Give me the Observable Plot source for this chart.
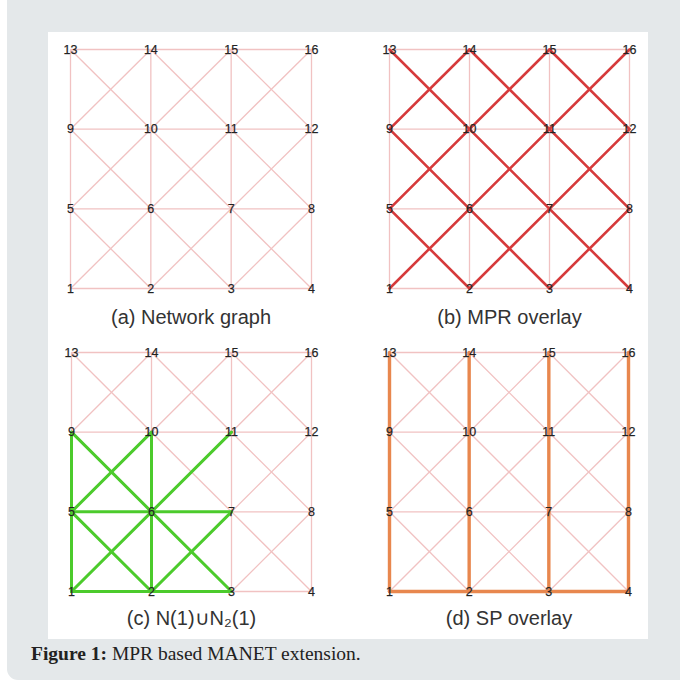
<!DOCTYPE html>
<html>
<head>
<meta charset="utf-8">
<script src="https://cdn.jsdelivr.net/npm/d3@7"></script>
<script src="https://cdn.jsdelivr.net/npm/@observablehq/plot@0.6"></script>
<style>
  html, body { margin: 0; padding: 0; background: #ffffff; width: 680px; height: 681px; overflow: hidden; }
  #panel { position: absolute; left: 7px; top: -12px; width: 690px; height: 692px; background: #e4e8ea; border-radius: 11px; }
  #box { position: absolute; left: 48px; top: 32px; width: 600px; height: 607px; background: #ffffff; }
  .cell { position: absolute; }
  #caption { position: absolute; left: 31px; top: 643px; font-family: "Liberation Serif", "DejaVu Serif", serif; font-size: 19.5px; color: #222; white-space: nowrap; }
  #caption b { font-weight: bold; }
</style>
</head>
<body>
<div id="panel"></div>
<div id="box"></div>
<div id="caption"><b>Figure 1:</b> MPR based MANET extension.</div>
<script>
// Node ids of the 4x4 grid (1 bottom-left, 16 top-right)
const nodes = [1,2,3,4,5,6,7,8,9,10,11,12,13,14,15,16];

// All links of the network graph
const allEdges = [
  [1,2],[2,3],[3,4],[5,6],[6,7],[7,8],[9,10],[10,11],[11,12],[13,14],[14,15],[15,16],
  [1,5],[5,9],[9,13],[2,6],[6,10],[10,14],[3,7],[7,11],[11,15],[4,8],[8,12],[12,16],
  [1,6],[2,5],[2,7],[3,6],[3,8],[4,7],[5,10],[6,9],[6,11],[7,10],[7,12],[8,11],
  [9,14],[10,13],[10,15],[11,14],[11,16],[12,15]
];
// (b) MPR overlay links
const mprEdges = [
  [1,6],[2,5],[2,7],[3,6],[3,8],[4,7],[5,10],[6,9],[6,11],[7,10],[7,12],[8,11],
  [9,14],[10,13],[10,15],[11,14],[11,16],[12,15]
];
// (c) N(1) ∪ N2(1) links
const nEdges = [
  [1,2],[2,3],[5,6],[6,7],[1,5],[5,9],[2,6],[6,10],
  [1,6],[6,11],[5,10],[2,7],[6,9],[3,6],[2,5]
];
// (d) SP overlay links
const spEdges = [
  [1,2],[2,3],[3,4],
  [1,5],[5,9],[9,13],[2,6],[6,10],[10,14],[3,7],[7,11],[11,15],[4,8],[8,12],[12,16]
];
const captions = ["(a) Network graph", "(b) MPR overlay", "(c) N(1)\u222AN\u2082(1)", "(d) SP overlay"];

const col = id => (id - 1) % 4;
const row = id => Math.floor((id - 1) / 4);

const pink = "#f1c2c2";
const cells = [
  {left: 48,  top: 32,  ml: 22, mr: 37, caption: captions[0], overlay: null, color: null, w: 0, capDy: 29},
  {left: 348, top: 32,  ml: 41, mr: 19, caption: captions[1], overlay: mprEdges, color: "#d63a3b", w: 2.6, capDy: 29},
  {left: 48,  top: 335, ml: 23, mr: 37, caption: captions[2], overlay: nEdges, color: "#4ccb2c", w: 3, capDy: 27},
  {left: 348, top: 335, ml: 41, mr: 20, caption: captions[3], overlay: spEdges, color: "#e8874e", w: 3.4, capDy: 27}
];

for (const c of cells) {
  const marks = [
    Plot.link(allEdges, {
      x1: d => col(d[0]), y1: d => row(d[0]), x2: d => col(d[1]), y2: d => row(d[1]),
      stroke: pink, strokeWidth: 1.3
    })
  ];
  if (c.overlay) {
    marks.push(Plot.link(c.overlay, {
      x1: d => col(d[0]), y1: d => row(d[0]), x2: d => col(d[1]), y2: d => row(d[1]),
      stroke: c.color, strokeWidth: c.w, strokeLinecap: "round"
    }));
  }
  marks.push(Plot.text(nodes, {
    x: d => col(d), y: d => row(d), text: d => String(d),
    fill: "#222", stroke: "#555", strokeWidth: 0.25,
    fontSize: 12.5, fontFamily: "Liberation Sans, Arial, sans-serif"
  }));
  marks.push(Plot.text([c.caption], {
    frameAnchor: "bottom", lineAnchor: "middle", dy: c.capDy, text: d => d,
    fill: "#333", fontSize: 20, fontFamily: "Liberation Sans, Arial, sans-serif"
  }));
  const svg = Plot.plot({
    width: 300, height: 303,
    marginLeft: c.ml, marginRight: c.mr, marginTop: 17, marginBottom: 47,
    x: {domain: [0, 3], axis: null},
    y: {domain: [0, 3], axis: null},
    style: {background: "transparent", overflow: "visible"},
    marks
  });
  const div = document.createElement("div");
  div.className = "cell";
  div.style.left = c.left + "px";
  div.style.top = c.top + "px";
  div.appendChild(svg);
  document.body.appendChild(div);
}
</script>
</body>
</html>
